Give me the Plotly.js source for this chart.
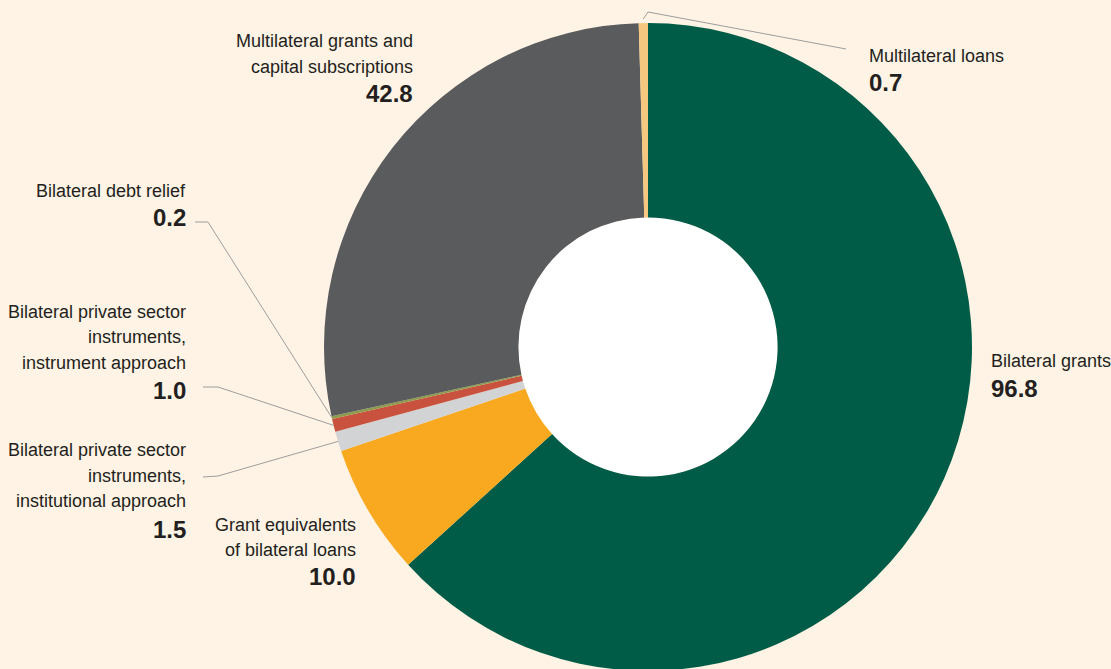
<!DOCTYPE html>
<html>
<head>
<meta charset="utf-8">
<script src="https://cdn.plot.ly/plotly-3.0.1.min.js"></script>
<style>
html,body{margin:0;padding:0;overflow:hidden;background:#fef3e4;}
#chart{width:1111px;height:680px;}
</style>
</head>
<body>
<div id="chart"></div>
<script>
// ---- Data ----
const categories = [
  "Bilateral grants",
  "Grant equivalents of bilateral loans",
  "Bilateral private sector instruments, institutional approach",
  "Bilateral private sector instruments, instrument approach",
  "Bilateral debt relief",
  "Multilateral grants and capital subscriptions",
  "Multilateral loans"
];
const values = [96.8, 10.0, 1.5, 1.0, 0.2, 42.8, 0.7];
const valueLabels = ["96.8", "10.0", "1.5", "1.0", "0.2", "42.8", "0.7"];
const labelLines = [
  ["Bilateral grants"],
  ["Grant equivalents", "of bilateral loans"],
  ["Bilateral private sector", "instruments,", "institutional approach"],
  ["Bilateral private sector", "instruments,", "instrument approach"],
  ["Bilateral debt relief"],
  ["Multilateral grants and", "capital subscriptions"],
  ["Multilateral loans"]
];
const colors = ["#005c46", "#f9a91f", "#d1d3d4", "#c9523f", "#8c9c4c", "#5a5b5d", "#f6c77e"];

// ---- Layout geometry (pixels) ----
const W = 1111, H = 680;
const CX = 648, CY = 347, R = 324, HOLE = 0.4;
const px = x => x / W;
const py = y => (H - y) / H;

// label placement: anchor x, side, line centre y's, number centre y
const labelPos = [
  {x: 989, side: "left",  y: [360.5], ny: 388},
  {x: 358, side: "right", y: [524.5, 550], ny: 576},
  {x: 188, side: "right", y: [450, 475.5, 501], ny: 529},
  {x: 188, side: "right", y: [312, 337, 362.5], ny: 390.5},
  {x: 188, side: "right", y: [190.5], ny: 217.5},
  {x: 415, side: "right", y: [40.5, 67], ny: 93.5},
  {x: 867, side: "left",  y: [55.5], ny: 82}
];
// leader line elbows (pixels) for small slices; start computed from slice angle
const leaders = {
  2: {r: R, pts: [[218, 476], [203, 477]]},
  3: {r: R, pts: [[218, 387], [203, 387]]},
  4: {r: R, pts: [[208, 222], [195, 222]]},
  6: {r: R + 4, pts: [[648, 12], [846, 49]]}
};

const textColor = "#231f20";
const labelFont = {family: "'Liberation Sans', Arimo, Arial, sans-serif", size: 18, color: textColor};
const numFont = {family: "'Liberation Sans', Arimo, Arial, sans-serif", size: 24, color: textColor};

const annotations = [];
labelLines.forEach((lines, i) => {
  const p = labelPos[i];
  lines.forEach((t, j) => {
    annotations.push({
      text: t, xref: "paper", yref: "paper",
      x: px(p.x), y: py(p.y[j]), xanchor: p.side, yanchor: "middle",
      showarrow: false, font: labelFont, align: p.side
    });
  });
  annotations.push({
    text: "<b>" + valueLabels[i] + "</b>", xref: "paper", yref: "paper",
    x: px(p.x), y: py(p.ny), xanchor: p.side, yanchor: "middle",
    showarrow: false, font: numFont, align: p.side
  });
});

// slice mid angles (clockwise from 12 o'clock)
const total = values.reduce((a, b) => a + b, 0);
let cum = 0;
const midAngles = values.map(v => { const m = (cum + v / 2) / total * 2 * Math.PI; cum += v; return m; });

const shapes = [{
  type: "circle", xref: "paper", yref: "paper", layer: "below",
  x0: px(CX - R * HOLE), x1: px(CX + R * HOLE),
  y0: py(CY + R * HOLE), y1: py(CY - R * HOLE),
  fillcolor: "#ffffff", line: {width: 0}
}];
Object.keys(leaders).forEach(k => {
  const i = +k, L = leaders[k];
  const a = midAngles[i];
  const sx = CX + L.r * Math.sin(a), sy = CY - L.r * Math.cos(a);
  let path = "M " + px(sx) + "," + py(sy);
  L.pts.forEach(p => { path += " L " + px(p[0]) + "," + py(p[1]); });
  shapes.push({type: "path", xref: "paper", yref: "paper", path: path,
    line: {color: "#9d9d9d", width: 1}});
});

const trace = {
  type: "pie",
  labels: categories,
  values: values,
  sort: false,
  direction: "clockwise",
  rotation: 0,
  hole: HOLE,
  textinfo: "none",
  hoverinfo: "skip",
  showlegend: false,
  marker: {colors: colors, line: {width: 0}},
  domain: {x: [px(CX - R), px(CX + R)], y: [py(CY + R), py(CY - R)]}
};

const layout = {
  width: W, height: H,
  margin: {l: 0, r: 0, t: 0, b: 0},
  paper_bgcolor: "#fef3e4",
  plot_bgcolor: "#fef3e4",
  showlegend: false,
  annotations: annotations,
  shapes: shapes
};

Plotly.newPlot("chart", [trace], layout, {displayModeBar: false, staticPlot: true});
</script>
</body>
</html>
